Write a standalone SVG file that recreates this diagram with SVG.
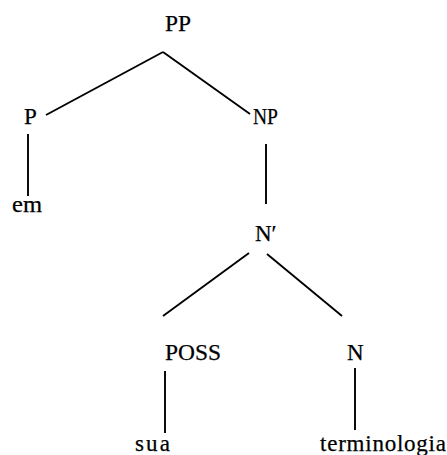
<svg xmlns="http://www.w3.org/2000/svg" width="447" height="455" viewBox="0 0 447 455">
<style>
text{font-family:"Liberation Serif","Times New Roman",serif;font-size:23px;fill:#000;stroke:#000;stroke-width:0.25}
.e line{stroke:#000;stroke-width:1.9}
</style>
<rect width="447" height="455" fill="#fff"/>
<g class="e" id="connectors">
<line x1="163" y1="52" x2="46" y2="115"/>
<line x1="163" y1="52" x2="250" y2="114"/>
<line x1="28" y1="134" x2="28" y2="196"/>
<line x1="266" y1="144" x2="266" y2="204"/>
<line x1="249" y1="253" x2="163" y2="316"/>
<line x1="267" y1="254" x2="342" y2="316"/>
<line x1="165" y1="371" x2="165" y2="433"/>
<line x1="355" y1="368" x2="355" y2="430"/>
</g>
<g id="PP"><text x="165" y="31" textLength="26" lengthAdjust="spacingAndGlyphs">PP</text></g>
<g id="P"><text x="24" y="124">P</text></g>
<g id="NP"><text x="253" y="124" textLength="25" lengthAdjust="spacingAndGlyphs">NP</text></g>
<g id="em"><text x="12" y="212" textLength="30" lengthAdjust="spacingAndGlyphs">em</text></g>
<g id="Nbar"><text x="255" y="241">N′</text></g>
<g id="POSS"><text x="165" y="360" textLength="56" lengthAdjust="spacingAndGlyphs">POSS</text></g>
<g id="N"><text x="347" y="360">N</text></g>
<g id="sua"><text x="135" y="451" textLength="35" lengthAdjust="spacing">sua</text></g>
<g id="terminologia"><text x="320" y="451" textLength="126" lengthAdjust="spacing">terminologia</text></g>
</svg>
